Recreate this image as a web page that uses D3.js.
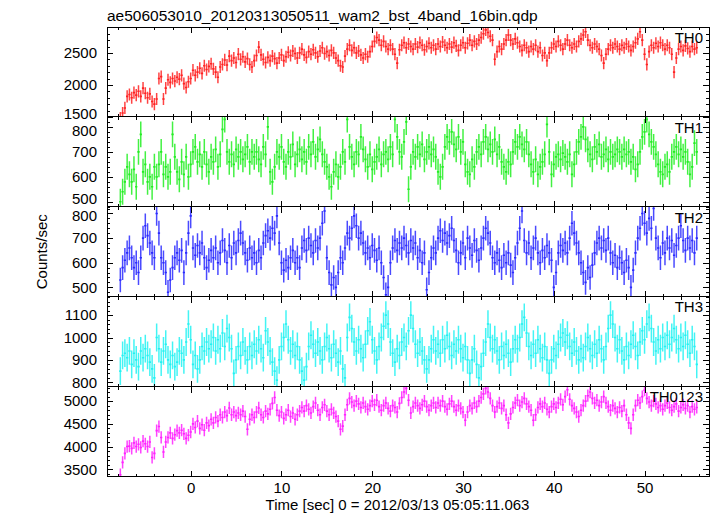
<!DOCTYPE html>
<html><head><meta charset="utf-8">
<script src="https://cdn.jsdelivr.net/npm/d3@7"></script>
<style>
body{margin:0;background:#fff}
svg{display:block}
text{font-family:"Liberation Sans",Arial,Helvetica,sans-serif;fill:#000}
</style>
</head><body>
<svg id="c" width="717" height="516"></svg>
<script>
const title = "ae506053010_20120313050511_wam2_bst_4band_16bin.qdp";
const xLabel = "Time [sec] 0 = 2012/03/13 05:05:11.063";
const yLabel = "Counts/sec";
const panelNames = ["TH0", "TH1", "TH2", "TH3", "TH0123"];
const panelColors = ["#ff2222", "#22ee22", "#2a2aff", "#22f2f2", "#ff22ff"];
const tStart = -7.75, binWidth = 0.25;

const th0 = [
1480,1560,1640,1820,1850,1800,1880,1840,1900,1820,1950,1870,1800,1860,1740,1700,1780,2100,2130,1780,
1950,2080,2040,2100,2060,2120,2090,2150,2020,1960,2050,2100,2230,2150,2200,2260,2180,2300,2240,2290,
2330,2250,2200,2120,2280,2320,2390,2310,2450,2380,2420,2350,2480,2400,2440,2360,2410,2320,2280,2380,
2460,2590,2470,2400,2350,2430,2380,2450,2410,2340,2420,2470,2380,2440,2510,2460,2530,2490,2420,2500,
2560,2470,2430,2520,2480,2550,2500,2440,2530,2580,2490,2520,2460,2540,2500,2420,2380,2300,2280,2450,
2560,2620,2540,2580,2500,2530,2470,2420,2480,2440,2520,2600,2680,2740,2700,2620,2680,2600,2560,2620,
2560,2480,2340,2550,2620,2660,2580,2640,2600,2560,2640,2590,2660,2620,2550,2600,2650,2580,2620,2560,
2640,2600,2670,2620,2580,2640,2590,2660,2610,2540,2620,2660,2580,2650,2700,2620,2680,2640,2700,2740,
2800,2860,2820,2760,2700,2400,2520,2600,2560,2640,2700,2780,2700,2640,2720,2660,2600,2540,2620,2580,
2520,2600,2560,2620,2520,2580,2460,2500,2380,2500,2580,2640,2600,2680,2620,2560,2640,2700,2620,2580,
2640,2600,2680,2720,2780,2830,2700,2620,2580,2640,2600,2560,2460,2340,2480,2560,2620,2580,2640,2600,
2560,2620,2580,2640,2600,2540,2600,2660,2720,2830,2700,2480,2320,2520,2620,2580,2650,2600,2660,2620,
2560,2620,2580,2480,2200,2420,2560,2600,2540,2610,2570,2520,2600,2560,2580];

const th1 = [
500,540,580,640,610,580,630,560,700,770,620,650,580,600,560,640,600,650,700,610,
640,600,620,770,680,620,590,660,610,680,600,650,700,720,660,690,640,700,650,620,
680,660,710,640,690,790,830,700,660,690,650,710,680,700,670,690,720,660,700,680,
700,670,650,720,690,800,620,580,640,700,680,720,660,640,700,680,730,650,690,710,
670,700,660,720,690,740,680,710,750,690,660,640,600,560,620,650,600,640,700,660,
830,720,680,650,700,690,760,710,670,640,690,630,660,680,710,650,690,700,670,720,
690,830,760,700,680,740,820,550,640,700,680,720,690,730,670,700,720,690,710,680,
620,600,640,720,760,740,780,730,710,760,700,740,650,620,610,670,640,700,720,690,
740,760,710,730,700,750,690,720,660,640,620,660,650,700,740,720,760,730,710,740,
690,650,620,670,610,640,660,690,810,700,610,650,680,690,670,695,680,660,690,610,
650,700,740,760,800,750,710,690,670,720,700,730,680,690,710,670,700,680,690,710,
700,680,710,690,700,660,680,630,650,700,760,780,830,770,740,720,690,650,620,610,
640,650,620,680,700,720,690,710,680,700,660,610,640,735,700];

const th2 = [
530,580,610,640,660,620,580,600,560,620,700,750,710,680,640,620,800,720,620,600,
560,480,530,580,620,640,610,650,560,640,720,790,660,630,670,640,680,620,580,610,
650,620,660,600,640,690,650,600,670,620,680,640,690,720,680,640,610,660,620,640,
600,650,620,680,710,730,700,740,720,790,680,600,570,610,580,620,650,600,620,580,
660,690,650,700,670,640,690,660,700,760,810,620,560,510,540,500,560,620,600,660,
720,700,740,790,750,700,720,680,640,660,620,670,650,610,660,600,540,470,500,600,
660,690,650,680,660,700,670,640,690,660,680,620,650,600,640,490,560,620,660,640,
700,730,690,720,680,710,740,690,650,600,640,680,620,700,660,630,690,650,610,660,
700,740,720,680,620,600,640,610,580,630,600,640,590,560,620,680,740,810,690,640,
680,620,660,700,640,600,650,620,670,640,610,500,560,640,670,650,680,640,700,760,
720,680,640,600,560,520,580,540,590,640,680,700,660,690,650,700,640,600,630,580,
620,600,560,610,580,500,570,640,700,740,800,760,720,780,740,820,700,660,620,680,
640,700,660,690,630,670,700,750,690,650,700,660,690,640,700];

const th3 = [
850,920,930,910,940,880,930,900,870,940,910,950,920,890,860,820,1000,950,890,940,
970,900,880,920,870,890,940,930,900,980,1060,990,880,920,860,900,960,940,980,950,
970,1000,940,990,950,1020,960,1040,1000,950,840,900,960,920,980,940,900,960,920,970,
940,990,950,910,1030,980,940,890,850,810,900,960,1000,1060,990,940,970,920,960,900,
850,810,870,960,1010,970,930,980,940,900,960,1000,950,910,970,930,890,940,860,820,
1000,1090,1040,980,940,990,950,910,970,1030,1070,990,940,900,960,1000,1050,1100,1060,980,
930,890,950,920,980,1000,960,1030,1100,1040,970,930,980,940,900,860,900,950,990,940,
970,930,990,950,1010,960,920,970,940,990,950,910,960,900,840,900,950,880,820,870,
930,980,1060,1000,950,990,940,900,960,920,970,930,890,950,990,950,1000,1060,1090,1020,
960,920,970,930,990,950,910,960,900,840,900,950,920,970,1000,1020,980,1010,960,930,
980,940,900,950,910,960,1000,950,920,970,930,990,950,900,960,1040,1100,1060,1000,950,
990,940,900,960,920,970,1010,960,920,980,1030,990,1060,1090,1040,980,940,990,950,1000,
960,1010,970,1000,1040,990,950,1000,960,1010,970,930,990,960,880];

const th0123 = [
3380,3650,3850,4000,4010,3960,4080,4000,4050,3980,4120,4060,4000,4100,3760,3850,4350,4440,4200,3880,
4100,4200,4300,4180,4260,4350,4300,4360,4280,4180,4250,4320,4500,4420,4560,4400,4480,4360,4520,4460,
4600,4520,4640,4560,4700,4640,4760,4680,4850,4700,4760,4680,4740,4700,4780,4660,4380,4600,4700,4640,
4760,4850,4700,4640,4780,4720,4820,4950,5080,4800,4680,4760,4620,4700,4800,4660,4740,4600,4700,4780,
4860,4780,4900,4820,4740,4880,4960,4800,4700,4860,4920,4780,4700,4820,4740,4660,4560,4380,4450,4700,
4920,5060,4980,4900,5000,4940,4860,4960,4880,4820,4900,5000,4920,5020,4880,4800,4900,4960,4840,4780,
4900,4860,4760,4950,5080,5200,5280,5020,4740,4880,4960,4900,4840,4920,5000,4880,4800,4900,4960,4860,
4960,4900,5000,4880,4820,4940,5000,4880,4800,4900,4840,4760,4580,4760,4900,4840,4960,4880,5000,5080,
5160,5280,5200,5060,4900,4760,4880,4960,4840,4900,4700,4520,4720,4860,4960,5020,4900,4980,5060,4940,
4880,4800,4580,4700,4860,4940,4880,4960,4820,4760,4880,4940,4860,4960,5040,4920,5100,5250,5040,4900,
4840,4760,4660,4800,4900,5000,5120,5200,5060,4960,5020,4900,4980,5100,4960,4880,4800,4900,4840,4760,
4860,4780,4900,4700,4520,4400,4700,4900,5020,4960,5100,5240,5060,4980,4900,5000,4940,4860,4900,4820,
4900,4960,4860,4800,4880,4940,4780,4860,4920,4840,4900,4760,4880,4820,4860];

const panelValues = [th0, th1, th2, th3, th0123];
const halfErrors = [95, 52, 50, 62, 135];
const yDomains = [[1500, 2905], [480, 840], [462, 827], [781, 1182], [3340, 5320]];
const yMajorTicks = [[1500, 2000, 2500], [500, 600, 700, 800], [500, 600, 700, 800], [800, 900, 1000, 1100], [3500, 4000, 4500, 5000]];
const yMinorStep = [100, 20, 20, 20, 100];
const xDomain = [-9.22, 57.1];
const xMajorTicks = [0, 10, 20, 30, 40, 50];
const xMinorStep = 2;

const L = 107, R = 709, TOP = 27, BOT = 476.5;
const ph = (BOT - TOP) / panelNames.length;
const svg = d3.select("#c");
const x = d3.scaleLinear().domain(xDomain).range([L, R]);
const FS = 15;

function minorTicks(dom, step) {
  const lo = Math.ceil(dom[0] / step) * step;
  return d3.range(lo, dom[1] + 1e-9, step);
}
function styleAxis(g) {
  g.select(".domain").remove();
  g.selectAll(".tick line").attr("stroke", "#000").attr("stroke-width", 1).attr("shape-rendering", "crispEdges");
  g.selectAll(".tick text").attr("font-size", FS).attr("font-family", '"Liberation Sans",Arial,sans-serif').attr("fill", "#000");
}

const yScales = [];
const leftLabelGroups = [];

panelNames.forEach((name, k) => {
  const top = TOP + k * ph, bottom = top + ph;
  const y = d3.scaleLinear().domain(yDomains[k]).range([bottom, top]);
  yScales.push(y);
  const g = svg.append("g");
  const cid = "clip" + k;
  svg.append("clipPath").attr("id", cid).append("rect")
    .attr("x", L).attr("y", top).attr("width", R - L).attr("height", ph);

  const e = halfErrors[k];
  const pErr = d3.path(), pBin = d3.path();
  panelValues[k].forEach((v, i) => {
    const t = tStart + i * binWidth;
    pBin.moveTo(x(t - binWidth / 2), y(v));
    pBin.lineTo(x(t + binWidth / 2), y(v));
    pErr.moveTo(x(t), y(v - e));
    pErr.lineTo(x(t), y(v + e));
  });
  g.append("path").attr("d", pErr.toString()).attr("clip-path", `url(#${cid})`)
    .attr("fill", "none").attr("stroke", panelColors[k]).attr("stroke-width", 1.5).attr("stroke-opacity", 0.85);
  g.append("path").attr("d", pBin.toString()).attr("clip-path", `url(#${cid})`)
    .attr("fill", "none").attr("stroke", panelColors[k]).attr("stroke-width", 1.6);

  // y axes
  const minY = minorTicks(yDomains[k], yMinorStep[k]);
  const lg = svg.append("g").attr("transform", `translate(${L},0)`)
    .call(d3.axisLeft(y).tickValues(yMajorTicks[k]).tickSizeInner(-6).tickSizeOuter(0).tickPadding(10).tickFormat(d3.format("d")))
    .call(styleAxis);
  leftLabelGroups.push(lg);
  svg.append("g").attr("transform", `translate(${L},0)`)
    .call(d3.axisLeft(y).tickValues(minY).tickSizeInner(-3).tickSizeOuter(0).tickFormat(""))
    .call(styleAxis);
  svg.append("g").attr("transform", `translate(${R},0)`)
    .call(d3.axisRight(y).tickValues(yMajorTicks[k]).tickSizeInner(-6).tickSizeOuter(0).tickFormat(""))
    .call(styleAxis);
  svg.append("g").attr("transform", `translate(${R},0)`)
    .call(d3.axisRight(y).tickValues(minY).tickSizeInner(-3).tickSizeOuter(0).tickFormat(""))
    .call(styleAxis);

  // x axes (top and bottom of each panel)
  const minX = minorTicks(xDomain, xMinorStep);
  const last = k === panelNames.length - 1;
  svg.append("g").attr("transform", `translate(0,${bottom})`)
    .call(d3.axisBottom(x).tickValues(xMajorTicks).tickSizeInner(-6).tickSizeOuter(0).tickPadding(6)
      .tickFormat(last ? d3.format("d") : ""))
    .call(styleAxis);
  svg.append("g").attr("transform", `translate(0,${bottom})`)
    .call(d3.axisBottom(x).tickValues(minX).tickSizeInner(-3).tickSizeOuter(0).tickFormat(""))
    .call(styleAxis);
  svg.append("g").attr("transform", `translate(0,${top})`)
    .call(d3.axisTop(x).tickValues(xMajorTicks).tickSizeInner(-6).tickSizeOuter(0).tickFormat(""))
    .call(styleAxis);
  svg.append("g").attr("transform", `translate(0,${top})`)
    .call(d3.axisTop(x).tickValues(minX).tickSizeInner(-3).tickSizeOuter(0).tickFormat(""))
    .call(styleAxis);

  // frame
  svg.append("rect").attr("x", L).attr("y", top).attr("width", R - L).attr("height", ph)
    .attr("fill", "none").attr("stroke", "#000").attr("stroke-width", 1).attr("shape-rendering", "crispEdges");

  svg.append("text").attr("x", 703).attr("y", top + 15.7).attr("text-anchor", "end")
    .attr("font-size", FS).text(name);
});

// push apart tick labels of neighbouring panels that would collide at a shared boundary
const minGap = 17;
for (let k = 0; k < panelNames.length - 1; k++) {
  const lowVal = d3.min(yMajorTicks[k]);
  const highVal = d3.max(yMajorTicks[k + 1]);
  const yLow = yScales[k](lowVal), yHigh = yScales[k + 1](highVal);
  const gap = yHigh - yLow;
  if (gap < minGap) {
    const shift = (minGap - gap) / 2;
    leftLabelGroups[k].selectAll(".tick").filter(d => d === lowVal).select("text").attr("dy", `calc(0.32em - ${shift}px)`)
      .attr("transform", `translate(0,${-shift})`).attr("dy", "0.32em");
    leftLabelGroups[k + 1].selectAll(".tick").filter(d => d === highVal).select("text")
      .attr("transform", `translate(0,${shift})`);
  }
}

svg.append("text").attr("x", L).attr("y", 20.5).attr("font-size", 15.5).text(title);
svg.append("text").attr("x", 397.5).attr("y", 509.5).attr("text-anchor", "middle").attr("font-size", FS).text(xLabel);
svg.append("text").attr("transform", `translate(46.5,${(TOP + BOT) / 2}) rotate(-90)`)
  .attr("text-anchor", "middle").attr("font-size", FS).text(yLabel);
</script>
</body></html>
